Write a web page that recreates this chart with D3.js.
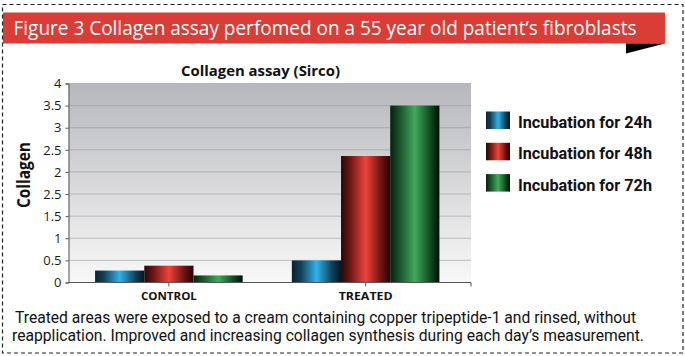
<!DOCTYPE html>
<html><head><meta charset="utf-8">
<script src="https://cdn.jsdelivr.net/npm/d3@7"></script>
<style>html,body{margin:0;padding:0;background:#fff;}svg{display:block;}</style>
</head><body>
<svg id="c" width="685" height="356"></svg>
<script>
const categories = ["CONTROL", "TREATED"];
const seriesNames = ["Incubation for 24h", "Incubation for 48h", "Incubation for 72h"];
const values24 = [0.27, 0.50];
const values48 = [0.38, 2.86];
const values72 = [0.16, 4.00];
const tickLabels = ["0", "0.5", "1", "1.5", "2.5", "2", "2.5", "3", "3.5", "4"];
const tickStep = 0.5;
const figureTitle = "Figure 3 Collagen assay perfomed on a 55 year old patient\u2019s fibroblasts";
const chartTitle = "Collagen assay (Sirco)";
const yTitle = "Collagen";
const captionLines = [
  "Treated areas were exposed to a cream containing copper tripeptide-1 and rinsed, without",
  "reapplication. Improved and increasing collagen synthesis during each day\u2019s measurement."
];

const series = [values24, values48, values72];
const svg = d3.select("#c");
const defs = svg.append("defs");

const gradStops = [
  ["#0a2130", "#124058", "#30b2ea", "#114058", "#07151e"],
  ["#2a0806", "#6c1611", "#ef4339", "#681410", "#230504"],
  ["#06200c", "#15512a", "#41aa5b", "#114820", "#020e04"]
];
gradStops.forEach((st, i) => {
  const g = defs.append("linearGradient").attr("id", "g" + i).attr("x1", 0).attr("x2", 1).attr("y1", 0).attr("y2", 0);
  [0, 0.18, 0.5, 0.82, 1].forEach((o, k) => g.append("stop").attr("offset", o).attr("stop-color", st[k]));
});
const bg = defs.append("linearGradient").attr("id", "bg").attr("x1", 0).attr("x2", 0).attr("y1", 0).attr("y2", 1);
bg.append("stop").attr("offset", 0).attr("stop-color", "#b7b8bc");
bg.append("stop").attr("offset", 1).attr("stop-color", "#f8f8f8");

// banner
svg.append("rect").attr("x", 3).attr("y", 12.5).attr("width", 662).attr("height", 31).attr("fill", "#da3d35");
svg.append("path").attr("d", "M626,43.5 L665,43.5 L626,53.5 Z").attr("fill", "#000");
svg.append("text").attr("x", 13.5).attr("y", 34.5).attr("fill", "#fff")
  .attr("font-family", "Open Sans").attr("font-size", 19.5)
  .attr("textLength", 623).attr("lengthAdjust", "spacingAndGlyphs").text(figureTitle);

// plot
const L = 68.5, R = 471, T = 83.5, B = 282.5;
const y = d3.scaleLinear().domain([0, (tickLabels.length - 1) * tickStep]).range([B, T]);
const x0 = d3.scaleBand().domain(categories).range([70.5, 464]).paddingInner(0).paddingOuter(0);
const inner = x0.bandwidth() * 0.75;
const x1 = d3.scaleBand().domain(d3.range(series.length)).range([0, inner]);

svg.append("rect").attr("x", L).attr("y", T).attr("width", R - L).attr("height", B - T).attr("fill", "url(#bg)");

const tickVals = tickLabels.map((d, i) => i * tickStep);
svg.append("g").selectAll("line").data(tickVals.slice(1)).join("line")
  .attr("x1", L).attr("x2", R).attr("y1", d => y(d)).attr("y2", d => y(d))
  .attr("stroke", "#8e8e93").attr("stroke-opacity", 0.5).attr("stroke-width", 1);

// bars
categories.forEach((c, ci) => {
  series.forEach((s, si) => {
    const bx = x0(c) + (x0.bandwidth() - inner) / 2 + x1(si);
    svg.append("rect").attr("x", bx).attr("y", y(s[ci])).attr("width", x1.bandwidth())
      .attr("height", y(0) - y(s[ci])).attr("fill", "url(#g" + si + ")");
  });
});

// y axis
const yAxis = d3.axisLeft(y).tickValues(tickVals).tickSize(3).tickPadding(4)
  .tickFormat((d, i) => tickLabels[i]);
const ya = svg.append("g").attr("transform", `translate(${L},0)`).call(yAxis);
ya.select(".domain").attr("stroke", "#555");
ya.selectAll(".tick line").attr("stroke", "#555");
ya.selectAll(".tick text").attr("font-family", "Open Sans").attr("font-size", 13).attr("fill", "#1a1a1a");

// x axis
const xa = svg.append("g").attr("transform", `translate(0,${B})`);
xa.append("line").attr("x1", L).attr("x2", R).attr("stroke", "#555");
xa.selectAll("line.t").data(categories).join("line").attr("class", "t")
  .attr("x1", d => x0(d) + x0.bandwidth() / 2).attr("x2", d => x0(d) + x0.bandwidth() / 2)
  .attr("y1", 0).attr("y2", 4).attr("stroke", "#555");
xa.append("line").attr("x1", R).attr("x2", R).attr("y1", 0).attr("y2", 4).attr("stroke", "#555");
xa.selectAll("text").data(categories).join("text")
  .attr("x", d => x0(d) + x0.bandwidth() / 2).attr("y", 17.5)
  .attr("text-anchor", "middle").attr("font-family", "Open Sans").attr("font-weight", "bold")
  .attr("font-size", 11).attr("fill", "#111")
  .attr("textLength", (d, i) => i === 0 ? 56 : 54).attr("lengthAdjust", "spacingAndGlyphs")
  .text(d => d);

// titles
svg.append("text").attr("x", 260.5).attr("y", 76).attr("text-anchor", "middle")
  .attr("font-family", "Open Sans").attr("font-weight", "bold").attr("font-size", 15).attr("fill", "#111")
  .attr("textLength", 159).attr("lengthAdjust", "spacingAndGlyphs").text(chartTitle);
svg.append("text").attr("transform", "translate(30,175) rotate(-90)").attr("text-anchor", "middle")
  .attr("font-family", "Open Sans").attr("font-weight", "bold").attr("font-size", 17).attr("fill", "#111")
  .attr("textLength", 66).attr("lengthAdjust", "spacingAndGlyphs").text(yTitle);

// legend
const lg = svg.append("g");
seriesNames.forEach((n, i) => {
  const ly = 111.5 + i * 31.3;
  lg.append("rect").attr("x", 486).attr("y", ly).attr("width", 24).attr("height", 17.5).attr("fill", "url(#g" + i + ")");
  lg.append("text").attr("x", 518).attr("y", ly + 16.5).attr("font-family", "Roboto").attr("font-weight", "bold")
    .attr("font-size", 17).attr("fill", "#111").attr("textLength", 134).attr("lengthAdjust", "spacingAndGlyphs").text(n);
});

// caption
const capX = [15, 12], capW = [621, 632], capY = [323, 341];
captionLines.forEach((t, i) => {
  svg.append("text").attr("x", capX[i]).attr("y", capY[i]).attr("font-family", "Roboto").attr("font-size", 16.5)
    .attr("fill", "#111").attr("textLength", capW[i]).attr("lengthAdjust", "spacingAndGlyphs").text(t);
});

// dashed border
svg.append("rect").attr("x", 2.5).attr("y", 4.5).attr("width", 680.5).attr("height", 348.5)
  .attr("fill", "none").attr("stroke", "#222").attr("stroke-width", 1.2).attr("stroke-dasharray", "4,3");
</script>
</body></html>
